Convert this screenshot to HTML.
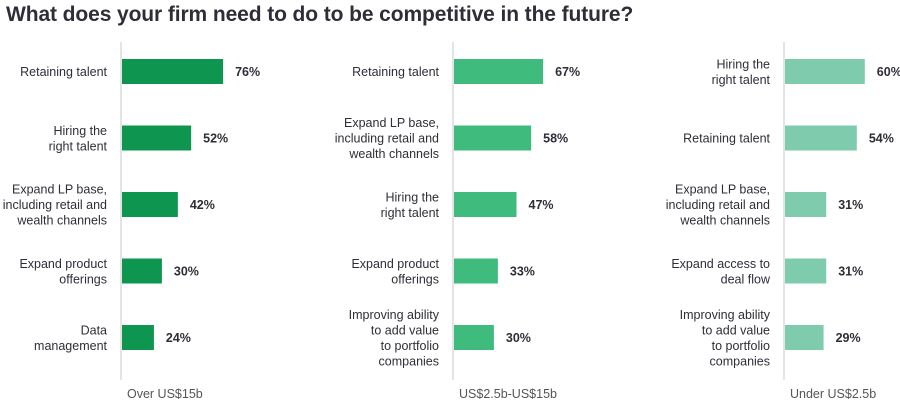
<!DOCTYPE html>
<html><head><meta charset="utf-8"><style>
body{margin:0;background:#fff;width:900px;height:407px;overflow:hidden;font-family:"Liberation Sans",sans-serif}
#title{position:absolute;left:6px;top:3px;font-size:21px;font-weight:bold;color:#2e2e38;letter-spacing:-0.1px}
</style></head><body>
<div id="title">What does your firm need to do to be competitive in the future?</div>
<svg id="chart" width="900" height="407" style="position:absolute;left:0;top:0"></svg>
<script>
const panelTitles=["Over US$15b","US$2.5b-US$15b","Under US$2.5b"];
const cats1=[["Retaining talent"],["Hiring the","right talent"],["Expand LP base,","including retail and","wealth channels"],["Expand product","offerings"],["Data","management"]];
const vals1=[76,52,42,30,24];
const cats2=[["Retaining talent"],["Expand LP base,","including retail and","wealth channels"],["Hiring the","right talent"],["Expand product","offerings"],["Improving ability","to add value","to portfolio","companies"]];
const vals2=[67,58,47,33,30];
const cats3=[["Hiring the","right talent"],["Retaining talent"],["Expand LP base,","including retail and","wealth channels"],["Expand access to","deal flow"],["Improving ability","to add value","to portfolio","companies"]];
const vals3=[60,54,31,31,29];
const NS="http://www.w3.org/2000/svg";
const svg=document.getElementById('chart');
const panels=[{x0:121,cats:cats1,vals:vals1,color:"#0e9650"},{x0:453,cats:cats2,vals:vals2,color:"#40bb7e"},{x0:784,cats:cats3,vals:vals3,color:"#7fcbad"}];
const scale=1.33;
function xS(v){return v*scale;}
function yS(i){return 71.5+i*66.5;}
function mk(t,a){const e=document.createElementNS(NS,t);for(const k in a)e.setAttribute(k,a[k]);svg.appendChild(e);return e;}
panels.forEach((p,pi)=>{
  const ax=mk('line',{x1:p.x0,x2:p.x0,y1:42,y2:380,stroke:'#c8c8c8','stroke-width':1});
  
  
  const pt=mk('text',{x:p.x0+6,y:398,'font-size':12.5,fill:'#555'});
  pt.textContent=panelTitles[pi];
  
  
  p.vals.forEach((v,i)=>{
    const cy=yS(i);
    const r=mk('rect',{x:p.x0+1,y:cy-12.5,width:xS(v),height:25,fill:p.color});
    
    
    const vt=mk('text',{x:p.x0+1+xS(v)+12,y:cy+4.5,'font-size':12.5,'font-weight':'bold',fill:'#2e2e38'});
    vt.textContent=v+'%';
    
    
    const lines=p.cats[i];
    const lh=15.5;
    lines.forEach((l,j)=>{
      const t=mk('text',{x:p.x0-14,y:cy+4.5+(j-(lines.length-1)/2)*lh,'font-size':12.5,'text-anchor':'end',fill:'#2e2e38'});
      t.textContent=l;
      
      
    });
  });
});
</script>
</body></html>
